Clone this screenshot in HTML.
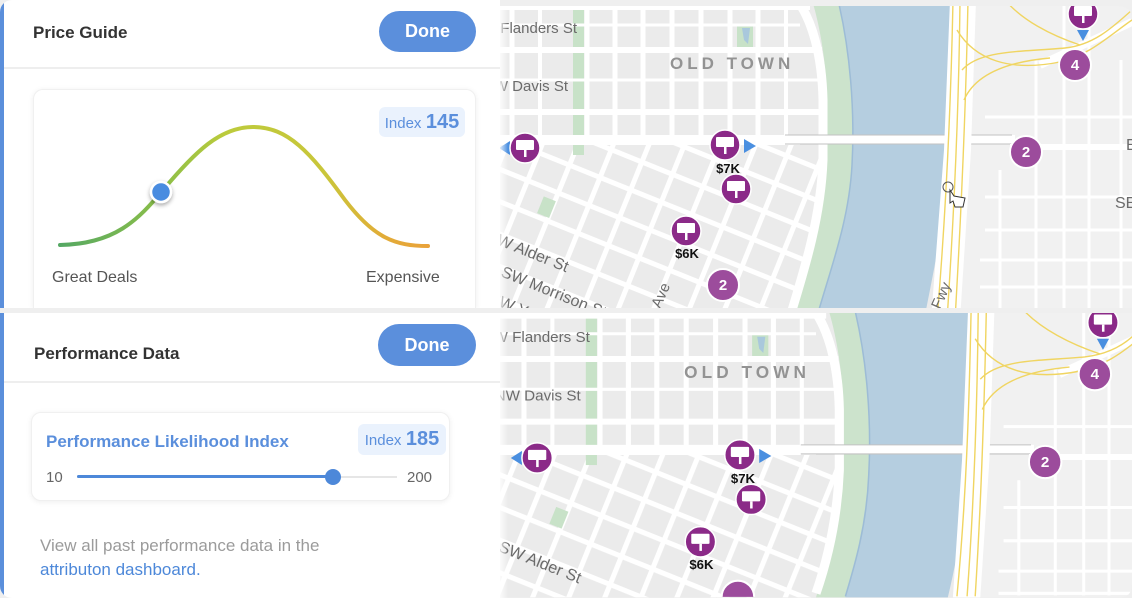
<!DOCTYPE html>
<html><head><meta charset="utf-8">
<style>
*{margin:0;padding:0;box-sizing:border-box}
html{width:1132px;height:598px;overflow:hidden}
body{width:1132px;height:598px;overflow:hidden;background:#efefef;font-family:"Liberation Sans",sans-serif;position:relative}
.panel{position:absolute;left:0;width:500px;background:#fff;overflow:hidden}
.bar{position:absolute;left:0;top:0;width:4px;height:100%;background:#5b8fdb}
.title{position:absolute;font-weight:bold;font-size:17px;line-height:20px;color:#333;white-space:nowrap}
.btn{position:absolute;background:#5b8fdc;border-radius:22px;color:#fff;font-weight:bold;font-size:18px;text-align:center}
.hr{position:absolute;left:4px;width:496px;height:2px;background:#eeeeee}
.card{position:absolute;background:#fff;border:1px solid #f0f0f0;border-radius:10px;box-shadow:0 1px 6px rgba(0,0,0,.07)}
.badge{position:absolute;background:#eaf2fd;border-radius:6px;color:#5b8fdc;text-align:center;white-space:nowrap}
.t{position:absolute;white-space:nowrap}
</style></head><body>

<!-- TOP PANEL -->
<div class="panel" style="top:0;height:308px;border-top-left-radius:12px;">
  <div class="bar"></div>
  <div class="title" style="left:33px;top:23px;">Price Guide</div>
  <div class="btn" style="left:379px;top:11px;width:97px;height:41px;line-height:41px;">Done</div>
  <div class="hr" style="top:67px;"></div>
  <div class="card" style="left:33px;top:89px;width:443px;height:219px;border-bottom:none;border-bottom-left-radius:0;border-bottom-right-radius:0;"></div>
  <div class="badge" style="left:379px;top:107px;width:86px;height:30px;line-height:30px;"><span style="font-size:15px">Index</span>&nbsp;<span style="font-size:20px;font-weight:bold">145</span></div>
  <svg class="t" style="left:0;top:0" width="500" height="308" viewBox="0 0 500 308">
    <defs>
      <linearGradient id="cg" gradientUnits="userSpaceOnUse" x1="60" y1="0" x2="428" y2="0">
        <stop offset="0" stop-color="#55a863"/>
        <stop offset="0.28" stop-color="#8cbf48"/>
        <stop offset="0.45" stop-color="#bccb3c"/>
        <stop offset="0.72" stop-color="#c9c63a"/>
        <stop offset="0.88" stop-color="#e2ac38"/>
        <stop offset="1" stop-color="#e9a23a"/>
      </linearGradient>
      <filter id="sh" x="-50%" y="-50%" width="200%" height="200%"><feDropShadow dx="0" dy="2" stdDeviation="2" flood-opacity="0.35"/></filter>
    </defs>
    <path d="M60,245 C115,244 138,220 163,190 C195,152 220,127 253,127 C288,127 310,152 345,200 C374,238 395,246 428,246" fill="none" stroke="url(#cg)" stroke-width="4" stroke-linecap="round"/>
    <circle cx="161" cy="192" r="10" fill="#4a8ce0" stroke="#fff" stroke-width="2.5" filter="url(#sh)"/>
  </svg>
  <div class="t" style="left:52px;top:269px;font-size:16px;line-height:18px;color:#555;">Great Deals</div>
  <div class="t" style="left:366px;top:269px;font-size:16px;line-height:18px;color:#555;">Expensive</div>
</div>

<!-- BOTTOM PANEL -->
<div class="panel" style="top:313px;height:285px;border-bottom-left-radius:12px;">
  <div class="bar"></div>
  <div class="title" style="left:34px;top:31px;">Performance Data</div>
  <div class="btn" style="left:378px;top:11px;width:98px;height:42px;line-height:42px;">Done</div>
  <div class="hr" style="top:68px;"></div>
  <div class="card" style="left:31px;top:99px;width:419px;height:89px;"></div>
  <div class="t" style="left:46px;top:119px;font-size:17px;line-height:20px;font-weight:bold;color:#5b8fdc;">Performance Likelihood Index</div>
  <div class="badge" style="left:358px;top:111px;width:88px;height:31px;line-height:31px;"><span style="font-size:15px">Index</span>&nbsp;<span style="font-size:20px;font-weight:bold">185</span></div>
  <div class="t" style="left:46px;top:156px;font-size:15px;line-height:18px;color:#666;">10</div>
  <div class="t" style="left:77px;top:163px;width:320px;height:2px;background:#e6e6e6;"></div>
  <div class="t" style="left:77px;top:162px;width:256px;height:3px;background:#4d88d9;border-radius:2px;"></div>
  <div class="t" style="left:325px;top:156px;width:16px;height:16px;border-radius:50%;background:#4d88d9;"></div>
  <div class="t" style="left:407px;top:156px;font-size:15px;line-height:18px;color:#666;">200</div>
  <div class="t" style="left:40px;top:221px;font-size:17px;line-height:24px;color:#9b9b9b;">View all past performance data in the<br><span style="color:#4d88d9">attributon dashboard.</span></div>
</div>

<!-- MAPS -->
<svg class="t" style="left:0;top:0" width="1132" height="598" viewBox="0 0 1132 598">
  <defs>
    <clipPath id="ctop"><path d="M500,6 H1118 Q1132,6 1132,20 V308 H500 Z"/></clipPath>
    <clipPath id="cbot"><path d="M500,313 H1132 V584 Q1132,598 1118,598 H500 Z"/></clipPath>
    <pattern id="grid" patternUnits="userSpaceOnUse" x="416.5" y="227.5" width="33" height="30" patternTransform="rotate(22 650 230)">
      <rect width="33" height="30" fill="#ebebeb"/>
      <rect width="33" height="5" fill="#fff"/>
      <rect width="5" height="30" fill="#fff"/>
    </pattern>
    <linearGradient id="lsh" x1="0" y1="0" x2="1" y2="0">
      <stop offset="0" stop-color="#fff" stop-opacity="0.8"/>
      <stop offset="1" stop-color="#fff" stop-opacity="0"/>
    </linearGradient>
  </defs>

  <!-- TOP MAP -->
  <g clip-path="url(#ctop)">
   <g>
    <rect x="470" y="0" width="700" height="320" fill="#ebebeb"/>
    <rect x="945" y="0" width="220" height="320" fill="#f1f1f1"/>
    <rect x="470" y="143" width="360" height="177" fill="url(#grid)"/>
    <rect x="573" y="0" width="11" height="155" fill="#c8e2c8"/>
    <rect x="540" y="198" width="13" height="18" fill="#c8e2c8" transform="rotate(22 546 207)"/>
    <rect x="737" y="25" width="16" height="22" fill="#c8e2c8"/>
    <path d="M742 28 L750 28 L748 44 L744 40 Z" fill="#a9c8dc"/>
    <g stroke="#fff" fill="none">
      <path d="M512 0V140M587 0V140M615 0V140M643 0V140M672 0V140M701 0V140M730 0V140M758 0V140" stroke-width="5"/>
      <path d="M540 0V140M786 0V140" stroke-width="4"/>
      <path d="M470 7H810M470 50H822M470 112H826" stroke-width="6"/>
      <path d="M470 25H800M470 80H820" stroke-width="3"/>
      <path d="M470 140H800" stroke-width="10"/>
    </g>
    <path d="M812 0 L844 0 C852 60 856 120 853 165 C849 225 832 275 816 320 L789 320 C806 265 824 215 827 160 L827 100 C826 55 818 20 812 0 Z" fill="#cce3cc"/>
    <path d="M797 0 C812 20 822 55 823 100 L823 160 C821 215 806 265 789 320" stroke="#fff" stroke-width="9" fill="none"/>
    <path d="M838 0 L952 0 L949 150 C947 205 937 255 924 320 L816 320 C830 270 849 222 852 165 C855 110 850 50 838 0 Z" fill="#b5cee0"/>
    <path d="M838 0 C850 50 855 110 852 165 C849 222 830 270 816 320" stroke="#9dbcd6" stroke-width="1.5" fill="none"/>
    <rect x="785" y="135" width="230" height="9" fill="#fff"/>
    <path d="M785 135H1012M785 144H1012" stroke="#c2c2c2" stroke-width="1"/>
    <path d="M950 0 L976 0 L971 150 L960 320 L931 320 L944 150 Z" fill="#fff"/>
    <g stroke="#fff" fill="none">
      <path d="M1010 147H1132" stroke-width="6"/>
      <path d="M1036 60V320M1064 0V320M1089 0V320M1121 60V320M1000 170V320" stroke-width="3"/>
      <path d="M985 117H1132M985 197H1132M985 230H1132M980 260H1132M980 287H1132" stroke-width="3"/>
      <path d="M1040 65 L1132 22" stroke-width="8"/>
    </g>
    <g stroke="#f0d562" stroke-width="1.4" fill="none">
      <path d="M953 0 C951 100 947 200 937 320"/>
      <path d="M960 0 C959 100 955 200 947 320"/>
      <path d="M968 0 C966 100 962 200 955 320"/>
      <path d="M957 30 C975 60 1010 72 1060 62 C1090 55 1110 35 1132 20"/>
      <path d="M962 70 C980 50 1020 52 1065 48 C1095 45 1115 25 1132 10"/>
      <path d="M964 100 C975 75 1005 62 1050 58"/>
      <path d="M1005 0 C1022 20 1050 35 1080 45"/>
    </g>
    <g font-family="Liberation Sans, sans-serif" font-size="15" fill="#6b6b6b">
      <text x="577" y="33" text-anchor="end">W Flanders St</text>
      <text x="568" y="91" text-anchor="end">NW Davis St</text>
      <text x="670" y="69" font-size="17" font-weight="bold" letter-spacing="4" fill="#939393">OLD TOWN</text>
      <text transform="translate(486,240) rotate(22)" font-size="16">SW Alder St</text>
      <text transform="translate(500,276) rotate(22)" font-size="16">SW Morrison St</text>
      <text transform="translate(488,302) rotate(22)" font-size="16">SW Yamhill St</text>
      <text transform="translate(660,309) rotate(-66)">Ave</text>
      <text transform="translate(940,310) rotate(-66)">Fwy</text>
      <text x="1126" y="150" font-size="16">E</text>
      <text x="1115" y="208" font-size="16">SE</text>
    </g>
    <circle cx="948" cy="187" r="5" fill="none" stroke="#555" stroke-width="1"/>
    <path d="M950 190 l0 13 l3 -2 l2 6 l8 0 l2 -9 l-11 -2 z" fill="#fff" stroke="#333" stroke-width="1"/>
    <g fill="#4a8fe0">
      <path d="M499 148 L510 141 L510 155 Z"/>
      <path d="M744 139 L756 146 L744 153 Z"/>
      <path d="M1077 30 L1089 30 L1083 41 Z"/>
    </g>
    <g fill="#8b2a88" stroke="#fff" stroke-width="1.5">
      <circle cx="525" cy="148" r="15"/>
      <circle cx="725" cy="145" r="15"/>
      <circle cx="736" cy="189" r="15"/>
      <circle cx="686" cy="231" r="15"/>
      <circle cx="1083" cy="14" r="15"/>
    </g>
    <g fill="#fff">
      <rect x="516" y="140" width="18" height="10" rx="1"/><rect x="524" y="150" width="2.5" height="7"/>
      <rect x="716" y="137" width="18" height="10" rx="1"/><rect x="724" y="147" width="2.5" height="7"/>
      <rect x="727" y="181" width="18" height="10" rx="1"/><rect x="735" y="191" width="2.5" height="7"/>
      <rect x="677" y="223" width="18" height="10" rx="1"/><rect x="685" y="233" width="2.5" height="7"/>
      <rect x="1074" y="6" width="18" height="10" rx="1"/><rect x="1082" y="16" width="2.5" height="7"/>
    </g>
    <g fill="#9c4c9c" stroke="#fff" stroke-width="2">
      <circle cx="723" cy="285" r="16"/>
      <circle cx="1026" cy="152" r="16"/>
      <circle cx="1075" cy="65" r="16"/>
    </g>
    <g font-family="Liberation Sans, sans-serif" font-weight="bold" text-anchor="middle">
      <text x="723" y="290" font-size="15" fill="#fff">2</text>
      <text x="1026" y="157" font-size="15" fill="#fff">2</text>
      <text x="1075" y="70" font-size="15" fill="#fff">4</text>
      <text x="728" y="173" font-size="13" fill="#111">$7K</text>
      <text x="687" y="258" font-size="13" fill="#111">$6K</text>
    </g>
   </g>
  </g>

  <!-- BOTTOM MAP (geometry kept within y<=286 local => <=598 abs) -->
  <g clip-path="url(#cbot)">
   <g transform="translate(4.8,308.5) scale(1.014,1.01)">
    <rect x="470" y="0" width="662" height="286" fill="#ebebeb"/>
    <rect x="945" y="0" width="187" height="286" fill="#f1f1f1"/>
    <rect x="470" y="143" width="360" height="143" fill="url(#grid)"/>
    <rect x="573" y="0" width="11" height="155" fill="#c8e2c8"/>
    <rect x="540" y="198" width="13" height="18" fill="#c8e2c8" transform="rotate(22 546 207)"/>
    <rect x="737" y="25" width="16" height="22" fill="#c8e2c8"/>
    <path d="M742 28 L750 28 L748 44 L744 40 Z" fill="#a9c8dc"/>
    <g stroke="#fff" fill="none">
      <path d="M512 0V140M587 0V140M615 0V140M643 0V140M672 0V140M701 0V140M730 0V140M758 0V140" stroke-width="5"/>
      <path d="M540 0V140M786 0V140" stroke-width="4"/>
      <path d="M470 7H810M470 50H822M470 112H826" stroke-width="6"/>
      <path d="M470 25H800M470 80H820" stroke-width="3"/>
      <path d="M470 140H800" stroke-width="10"/>
    </g>
    <path d="M812 0 L844 0 C852 60 856 120 853 165 C850 215 838 255 829 286 L800 286 C812 245 826 205 827 160 L827 100 C826 55 818 20 812 0 Z" fill="#cce3cc"/>
    <path d="M797 0 C812 20 822 55 823 100 L823 160 C821 210 811 250 800 282" stroke="#fff" stroke-width="9" fill="none"/>
    <path d="M838 0 L952 0 L949 150 C947 200 940 245 930 286 L829 286 C838 255 850 215 852 165 C855 110 850 50 838 0 Z" fill="#b5cee0"/>
    <path d="M838 0 C850 50 855 110 852 165 C850 215 838 255 829 285" stroke="#9dbcd6" stroke-width="1.5" fill="none"/>
    <rect x="785" y="135" width="230" height="9" fill="#fff"/>
    <path d="M785 135H1012M785 144H1012" stroke="#c2c2c2" stroke-width="1"/>
    <path d="M950 0 L976 0 L971 150 L962 286 L935 286 L944 150 Z" fill="#fff"/>
    <g stroke="#fff" fill="none">
      <path d="M1010 147H1120" stroke-width="6"/>
      <path d="M1036 60V284M1064 2V284M1089 2V284M1121 60V284M1000 170V284" stroke-width="3"/>
      <path d="M985 117H1120M985 197H1120M985 230H1120M980 260H1120M980 282H1120" stroke-width="3"/>
      <path d="M1040 65 L1115 30" stroke-width="8"/>
    </g>
    <g stroke="#f0d562" stroke-width="1.4" fill="none">
      <path d="M953 0 C951 100 948 190 939 285"/>
      <path d="M960 0 C959 100 956 190 949 285"/>
      <path d="M968 0 C966 100 963 190 957 285"/>
      <path d="M957 30 C975 60 1010 72 1060 62 C1085 56 1100 45 1115 33"/>
      <path d="M962 70 C980 50 1020 52 1065 48 C1090 45 1105 35 1115 25"/>
      <path d="M964 100 C975 75 1005 62 1050 58"/>
      <path d="M1005 2 C1022 20 1050 35 1080 45"/>
    </g>
    <g font-family="Liberation Sans, sans-serif" font-size="15" fill="#6b6b6b">
      <text x="577" y="33" text-anchor="end">W Flanders St</text>
      <text x="568" y="91" text-anchor="end">NW Davis St</text>
      <text x="670" y="69" font-size="17" font-weight="bold" letter-spacing="4" fill="#939393">OLD TOWN</text>
      <text transform="translate(486,240) rotate(22)" font-size="16">SW Alder St</text>
    </g>
    <g fill="#4a8fe0">
      <path d="M499 148 L510 141 L510 155 Z"/>
      <path d="M744 139 L756 146 L744 153 Z"/>
      <path d="M1077 30 L1089 30 L1083 41 Z"/>
    </g>
    <g fill="#8b2a88" stroke="#fff" stroke-width="1.5">
      <circle cx="525" cy="148" r="15"/>
      <circle cx="725" cy="145" r="15"/>
      <circle cx="736" cy="189" r="15"/>
      <circle cx="686" cy="231" r="15"/>
      <circle cx="1083" cy="14" r="15"/>
    </g>
    <g fill="#fff">
      <rect x="516" y="140" width="18" height="10" rx="1"/><rect x="524" y="150" width="2.5" height="7"/>
      <rect x="716" y="137" width="18" height="10" rx="1"/><rect x="724" y="147" width="2.5" height="7"/>
      <rect x="727" y="181" width="18" height="10" rx="1"/><rect x="735" y="191" width="2.5" height="7"/>
      <rect x="677" y="223" width="18" height="10" rx="1"/><rect x="685" y="233" width="2.5" height="7"/>
      <rect x="1074" y="6" width="18" height="10" rx="1"/><rect x="1082" y="16" width="2.5" height="7"/>
    </g>
    <g fill="#9c4c9c" stroke="#fff" stroke-width="2">
      <path d="M707 285.5 A16 16 0 0 1 739 285.5 Z" stroke="none"/>
      <path d="M707 285.5 A16 16 0 0 1 739 285.5" fill="none"/>
      <circle cx="1026" cy="152" r="16"/>
      <circle cx="1075" cy="65" r="16"/>
    </g>
    <g font-family="Liberation Sans, sans-serif" font-weight="bold" text-anchor="middle">
      <text x="1026" y="157" font-size="15" fill="#fff">2</text>
      <text x="1075" y="70" font-size="15" fill="#fff">4</text>
      <text x="728" y="173" font-size="13" fill="#111">$7K</text>
      <text x="687" y="258" font-size="13" fill="#111">$6K</text>
    </g>
   </g>
  </g>
  <rect x="500" y="6" width="8" height="302" fill="url(#lsh)"/>
  <rect x="500" y="313" width="8" height="285" fill="url(#lsh)"/>
</svg>
</body></html>
